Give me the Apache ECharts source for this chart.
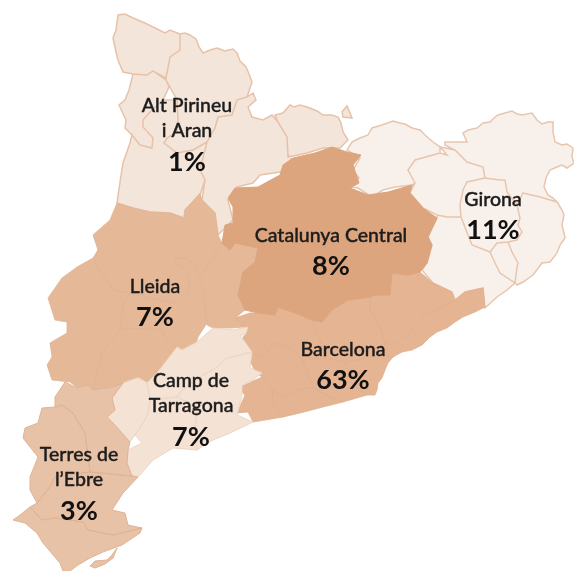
<!DOCTYPE html>
<html>
<head>
<meta charset="utf-8">
<style>
html, body { margin: 0; padding: 0; background: #fff; }
#main { width: 574px; height: 571px; }
</style>
<script src="https://cdn.jsdelivr.net/npm/echarts@6/dist/echarts.min.js"></script>
</head>
<body>
<div id="main"></div>
<script>
// shares
var regions = ['Alt Pirineu i Aran', 'Girona', 'Lleida', 'Barcelona', 'Camp de Tarragona', "Terres de l'Ebre", 'Catalunya Central'];
var labelLines = [['Alt Pirineu', 'i Aran'], ['Girona'], ['Lleida'], ['Barcelona'], ['Camp de', 'Tarragona'], ['Terres de', 'l\u2019Ebre'], ['Catalunya Central']];
var shares = [1, 11, 7, 63, 7, 3, 8];
var fills = ['#f4e5da', '#f8f1eb', '#e5b897', '#e4b493', '#f4e2d5', '#e8c2a7', '#dca57e'];
var borders = ['#e7c2a9', '#e8c5ad', '#e0b596', '#dfb08f', '#eed6c4', '#dfb497', '#dca57e'];
var borderWidths = [1.5, 1.5, 0.8, 0.8, 1, 1, 1];

// map outline of the comarques, page pixels, y going down
var outlines = {
    'Alt Pirineu i Aran': { cp: [187, 137], rings: [
        [[118,15],[125,14],[133,18],[145,23],[157,29],[165,33],[170,30],[180,34],[180,50],[170,57],[166,78],[153,71],[147,75],[133,74],[123,72],[118,60],[116,52],[113,38],[116,30]],
        [[133,74],[147,75],[153,71],[166,80],[169,87],[163,100],[150,112],[143,120],[143,127],[153,138],[152,148],[140,145],[132,135],[125,128],[126,120],[119,105],[125,100],[129,90]],
        [[180,34],[185,33],[190,35],[196,39],[199,47],[203,53],[210,50],[217,48],[225,51],[233,49],[237,53],[240,61],[246,67],[249,74],[252,82],[247,97],[237,100],[232,115],[218,117],[215,128],[207,142],[193,150],[177,153],[164,143],[167,138],[177,132],[178,120],[177,100],[166,80],[166,78],[170,57],[180,50]],
        [[132,135],[140,145],[152,148],[153,138],[143,127],[143,120],[150,112],[163,100],[177,100],[178,120],[177,132],[167,138],[164,143],[177,153],[193,150],[207,142],[200,170],[205,180],[200,195],[185,210],[184,218],[170,213],[150,212],[133,208],[117,203],[120,182],[123,163],[130,143]],
        [[247,97],[253,93],[256,100],[248,107],[252,117],[263,120],[272,115],[278,122],[287,137],[288,155],[293,160],[280,172],[260,175],[253,183],[237,187],[228,200],[233,220],[218,235],[215,213],[202,200],[205,180],[200,170],[207,142],[215,128],[218,117],[232,115],[237,100]],
        [[275,115],[283,113],[290,105],[294,107],[300,105],[307,107],[317,111],[323,115],[332,115],[338,117],[341,123],[343,132],[348,140],[340,148],[323,148],[307,153],[288,157],[287,137],[278,122]],
        [[342,112],[347,106],[350,113],[352,118],[343,117]]
    ]},
    'Girona': { cp: [493, 218], rings: [
        [[352,142],[360,138],[368,135],[372,128],[382,125],[393,121],[400,123],[405,124],[412,128],[420,130],[425,135],[433,142],[440,147],[440,153],[415,160],[408,170],[415,183],[412,185],[395,187],[383,190],[372,197],[358,188],[350,187],[359,178],[353,170],[360,158],[347,150]],
        [[408,170],[415,160],[440,153],[447,155],[440,147],[455,150],[467,162],[483,167],[485,178],[467,182],[463,190],[460,205],[461,217],[447,217],[437,215],[423,208],[410,193],[415,183]],
        [[437,215],[447,217],[461,217],[468,235],[472,245],[490,252],[495,263],[500,273],[515,283],[507,290],[497,297],[485,308],[483,288],[465,292],[455,300],[452,292],[433,283],[422,270],[427,263],[432,245],[428,237],[437,218]],
        [[463,190],[467,182],[485,178],[500,180],[505,180],[507,192],[517,205],[520,218],[518,225],[522,232],[517,240],[508,242],[497,243],[490,252],[472,245],[468,235],[461,217],[460,205]],
        [[490,252],[497,243],[508,242],[512,252],[518,263],[517,267],[515,283],[500,273],[495,263]],
        [[523,193],[540,197],[557,202],[562,210],[564,215],[562,225],[564,233],[565,238],[560,245],[557,253],[550,262],[542,263],[533,275],[523,282],[517,285],[515,283],[517,267],[518,263],[512,252],[508,242],[517,240],[522,232],[518,225],[520,218],[517,205]],
        [[445,142],[457,142],[467,142],[463,133],[468,130],[477,128],[483,123],[490,122],[495,117],[498,115],[505,113],[512,111],[517,114],[522,115],[532,113],[537,120],[542,124],[548,122],[553,122],[553,132],[555,142],[562,145],[567,144],[573,148],[572,157],[574,163],[567,168],[562,165],[557,167],[550,170],[546,178],[544,187],[548,195],[553,198],[557,202],[540,197],[523,193],[517,205],[507,192],[505,180],[500,180],[485,178],[483,167],[467,162],[455,150],[445,145]]
    ]},
    'Lleida': { cp: [155, 305], rings: [
        [[117,203],[133,208],[150,212],[170,213],[184,218],[185,210],[200,193],[202,200],[215,213],[218,235],[222,243],[200,277],[195,265],[187,258],[175,258],[177,265],[187,270],[190,285],[185,297],[173,303],[130,293],[113,290],[95,263],[98,250],[93,235],[110,220]],
        [[98,250],[95,263],[113,290],[130,293],[123,303],[122,315],[120,330],[102,353],[93,390],[80,390],[70,382],[52,380],[47,365],[52,357],[50,343],[67,333],[67,322],[55,320],[48,298],[62,278],[77,267],[93,258]],
        [[120,330],[127,328],[163,330],[165,338],[180,350],[163,370],[147,382],[138,377],[128,385],[113,387],[93,390],[102,353]],
        [[130,293],[173,303],[185,297],[190,285],[187,270],[177,265],[175,258],[187,258],[195,265],[200,277],[203,290],[207,323],[198,337],[195,347],[180,350],[165,338],[163,330],[127,328],[120,330],[122,315],[123,303]],
        [[200,277],[222,243],[230,250],[235,243],[258,248],[255,262],[243,272],[238,295],[245,310],[235,318],[243,327],[232,328],[213,328],[207,325],[203,290]]
    ]},
    'Barcelona': { cp: [343, 368], rings: [
        [[240,342],[248,330],[243,327],[235,318],[250,313],[258,313],[275,315],[278,307],[295,313],[312,320],[320,340],[326,358],[302,360],[290,347],[274,343],[262,357],[252,353]],
        [[262,377],[273,390],[272,403],[283,417],[253,422],[248,412],[237,413],[245,395],[238,388]],
        [[255,372],[250,360],[252,353],[262,357],[274,343],[290,347],[302,360],[313,387],[297,390],[283,397],[273,390],[262,377]],
        [[273,390],[283,397],[297,390],[313,387],[322,393],[343,402],[323,407],[300,413],[283,417],[272,403]],
        [[302,360],[326,358],[345,362],[352,378],[360,390],[367,395],[343,402],[322,393],[313,387]],
        [[312,320],[322,322],[332,310],[348,300],[370,297],[370,310],[380,327],[385,343],[382,355],[357,360],[345,362],[326,358],[320,340]],
        [[345,362],[357,360],[382,355],[393,357],[388,363],[385,370],[382,378],[378,383],[377,390],[375,395],[367,395],[360,390],[352,378]],
        [[370,297],[375,295],[390,295],[392,273],[408,275],[420,272],[433,283],[452,292],[455,300],[442,307],[427,313],[407,335],[393,345],[385,343],[380,327],[370,310]],
        [[455,300],[465,292],[483,288],[485,307],[475,312],[463,317],[455,322],[447,328],[437,332],[430,337],[422,345],[412,350],[402,352],[393,357],[382,355],[385,343],[393,345],[407,335],[427,313],[442,307]]
    ]},
    'Camp de Tarragona': { cp: [191, 412], rings: [
        [[123,383],[137,378],[147,383],[150,400],[148,413],[145,420],[135,435],[130,442],[113,423],[107,417],[115,410],[112,398]],
        [[147,383],[157,373],[177,347],[182,350],[197,342],[213,328],[233,330],[248,327],[245,335],[240,335],[252,352],[227,358],[217,367],[200,377],[182,390],[177,397],[150,400]],
        [[150,400],[177,397],[197,407],[195,430],[197,450],[173,448],[153,460],[138,477],[132,476],[127,463],[128,450],[142,443],[135,435],[145,420],[148,413]],
        [[177,397],[182,390],[200,377],[217,367],[227,358],[252,352],[250,368],[262,373],[253,380],[242,385],[242,395],[237,415],[253,422],[230,433],[213,440],[197,450],[195,430],[197,407]]
    ]},
    "Terres de l'Ebre": { cp: [79, 486], rings: [
        [[55,397],[65,382],[77,388],[88,385],[93,390],[113,387],[123,383],[112,398],[115,410],[107,417],[113,423],[130,442],[128,450],[127,463],[132,476],[90,472],[85,433],[77,420],[72,412],[62,405],[55,407]],
        [[55,407],[42,408],[38,423],[25,428],[23,438],[30,447],[38,457],[30,477],[30,490],[37,503],[50,487],[55,477],[90,472],[85,433],[77,420],[72,412],[62,405]],
        [[37,503],[50,487],[55,477],[90,472],[132,476],[138,477],[123,493],[112,510],[125,513],[128,525],[142,528],[113,535],[88,530],[83,522],[55,518],[42,520],[30,507]],
        [[30,507],[42,520],[55,518],[83,522],[88,530],[113,535],[142,528],[140,533],[122,545],[103,552],[90,558],[78,565],[70,571],[63,571],[60,563],[43,543],[37,533],[25,523],[13,520],[20,515]],
        [[90,566],[95,561],[107,560],[112,555],[117,548],[113,558],[105,564],[95,568]]
    ]},
    'Catalunya Central': { cp: [331, 254], rings: [
        [[293,158],[315,153],[332,147],[347,152],[361,155],[353,165],[359,183],[350,188],[368,195],[388,192],[412,185],[410,193],[423,208],[437,218],[428,237],[432,245],[427,263],[420,272],[408,275],[392,273],[390,295],[375,295],[370,297],[348,300],[332,310],[322,322],[312,320],[295,313],[278,307],[275,315],[258,313],[245,310],[238,295],[243,272],[255,262],[258,248],[235,243],[230,250],[222,243],[225,225],[233,223],[233,207],[228,198],[235,188],[258,187],[280,175],[283,165]]
    ]}
};

var features = regions.map(function (name) {
    return {
        type: 'Feature',
        properties: { name: name, cp: outlines[name].cp },
        geometry: {
            type: 'MultiPolygon',
            coordinates: outlines[name].rings.map(function (ring) {
                return [ring.concat([ring[0]])];
            })
        }
    };
});
echarts.registerMap('catalunya', { type: 'FeatureCollection', features: features });

var chart = echarts.init(document.getElementById('main'), null, { renderer: 'canvas' });
chart.setOption({
    animation: false,
    backgroundColor: '#fff',
    series: [{
        type: 'map',
        map: 'catalunya',
        projection: {
            project: function (p) { return p; },
            unproject: function (p) { return p; }
        },
        boundingCoords: [[0, 0], [574, 571]],
        left: 0,
        top: 0,
        width: 574,
        height: 571,
        roam: false,
        silent: true,
        selectedMode: false,
        data: regions.map(function (name, i) {
            return {
                name: name,
                value: shares[i],
                itemStyle: { areaColor: fills[i], borderColor: borders[i], borderWidth: borderWidths[i] }
            };
        }),
        label: {
            show: true,
            formatter: function (p) {
                var i = regions.indexOf(p.name);
                return labelLines[i].map(function (l) { return '{n|' + l + '}'; }).join('\n') + '\n{p|' + shares[i] + '%}';
            },
            rich: {
                n: { fontFamily: 'Lato', fontSize: 19.5, fontWeight: 500, color: '#1c1c1c', textBorderColor: '#1c1c1c', textBorderWidth: 0.4, lineHeight: 25, align: 'center' },
                p: { fontFamily: 'Lato', fontSize: 27, fontWeight: 'bold', color: '#111', lineHeight: 37, align: 'center' }
            }
        }
    }]
});
</script>
</body>
</html>
